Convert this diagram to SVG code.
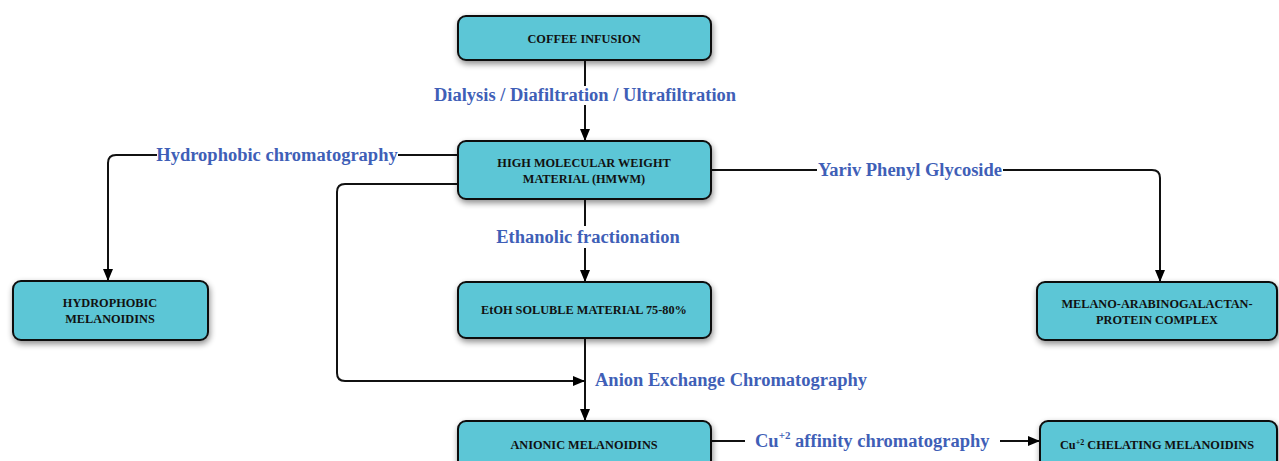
<svg xmlns="http://www.w3.org/2000/svg" width="1279" height="461" viewBox="0 0 1279 461">
<defs>
<filter id="sh" x="-10%" y="-20%" width="120%" height="150%">
<feGaussianBlur in="SourceAlpha" stdDeviation="3"/>
<feOffset dx="1" dy="3" result="b"/>
<feComponentTransfer><feFuncA type="linear" slope="0.45"/></feComponentTransfer>
<feMerge><feMergeNode/><feMergeNode in="SourceGraphic"/></feMerge>
</filter>
<marker id="ah" markerWidth="12" markerHeight="10" refX="11" refY="5" orient="auto" markerUnits="userSpaceOnUse">
<path d="M0,0 L12,5 L0,10 Z" fill="#000"/>
</marker>
</defs>
<style>
.box{fill:#5cc6d6;stroke:#111;stroke-width:2;filter:url(#sh)}
.nt{font-family:"Liberation Serif",serif;font-weight:bold;font-size:12.3px;fill:#111;text-anchor:middle}
.lb{font-family:"Liberation Serif",serif;font-weight:bold;font-size:18.5px;fill:#3f5fb7}
.cn{fill:none;stroke:#111;stroke-width:2}
</style>
<rect width="1279" height="461" fill="#fff"/>
<g id="connectors">
<path class="cn" d="M585,60 V86 M585,105 V140" marker-end="url(#ah)"/>
<path class="cn" d="M585,199 V226 M585,248 V281" marker-end="url(#ah)"/>
<path class="cn" d="M585,338 V420" marker-end="url(#ah)"/>
<path class="cn" d="M458,155 H398 M157,155 H116 Q108,155 108,163 V280" marker-end="url(#ah)"/>
<path class="cn" d="M458,184 H345 Q337,184 337,192 V373 Q337,381 345,381 H584" marker-end="url(#ah)"/>
<path class="cn" d="M711,170 H817 M1003,170 H1152 Q1160,170 1160,178 V281" marker-end="url(#ah)"/>
<path class="cn" d="M711,441 H745 M1000,441 H1039" marker-end="url(#ah)"/>
<text class="lb" x="585" y="101" text-anchor="middle">Dialysis / Diafiltration / Ultrafiltration</text>
<text class="lb" x="277" y="161" text-anchor="middle">Hydrophobic chromatography</text>
<text class="lb" x="910" y="176" text-anchor="middle">Yariv Phenyl Glycoside</text>
<text class="lb" x="588" y="243" text-anchor="middle">Ethanolic fractionation</text>
<text class="lb" x="595" y="386">Anion Exchange Chromatography</text>
<text class="lb" x="755" y="447">Cu<tspan font-size="11" dy="-8">+2</tspan><tspan dy="8"> affinity chromatography</tspan></text>
</g>
<g id="coffee"><rect class="box" x="458" y="16" width="253" height="44" rx="8"/><text class="nt" x="584" y="43">COFFEE INFUSION</text></g>
<g id="hmwm"><rect class="box" x="458" y="141" width="253" height="58" rx="8"/><text class="nt" x="584" y="167">HIGH MOLECULAR WEIGHT</text><text class="nt" x="584" y="183">MATERIAL (HMWM)</text></g>
<g id="hydrophobic"><rect class="box" x="13" y="281" width="195" height="59" rx="8"/><text class="nt" x="110" y="307">HYDROPHOBIC</text><text class="nt" x="110" y="323">MELANOIDINS</text></g>
<g id="melano"><rect class="box" x="1037" y="282" width="240" height="58" rx="8"/><text class="nt" x="1157" y="308">MELANO-ARABINOGALACTAN-</text><text class="nt" x="1157" y="324">PROTEIN COMPLEX</text></g>
<g id="etoh"><rect class="box" x="458" y="282" width="253" height="56" rx="8"/><text class="nt" x="584" y="314">EtOH SOLUBLE MATERIAL 75-80%</text></g>
<g id="anionic"><rect class="box" x="458" y="421" width="253" height="56" rx="8"/><text class="nt" x="584" y="449">ANIONIC MELANOIDINS</text></g>
<g id="chelating"><rect class="box" x="1040" y="421" width="237" height="56" rx="8"/><text class="nt" x="1157" y="449">Cu<tspan font-size="8" dy="-4">+2</tspan><tspan dy="4"> CHELATING MELANOIDINS</tspan></text></g>
</svg>
